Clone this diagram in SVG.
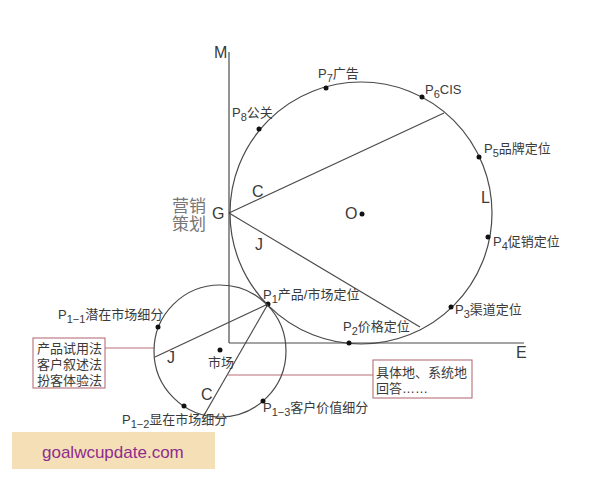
<svg xmlns="http://www.w3.org/2000/svg" width="600" height="480" viewBox="0 0 600 480">
<style>
.ln{stroke:#4a4a4a;stroke-width:1.2;fill:none}
.co{stroke:#b7707a;stroke-width:1.1;fill:none}
.t{font-family:"Liberation Sans","Noto Sans CJK SC",sans-serif;font-size:13px;fill:#3a3a3a}
.big{font-family:"Liberation Sans","Noto Sans CJK SC",sans-serif;font-size:16px;fill:#3a3a3a}
.dot{fill:#111}
.sub{font-size:11px}
</style>
<rect width="600" height="480" fill="#fff"/>
<g id="connectors">
<line class="ln" x1="229" y1="52" x2="229" y2="343"/>
<line class="ln" x1="229" y1="343" x2="524" y2="343"/>
<line class="ln" x1="229" y1="213" x2="444" y2="113"/>
<line class="ln" x1="229" y1="213" x2="420" y2="327"/>
<line class="ln" x1="268" y1="304" x2="155" y2="357"/>
<line class="ln" x1="268" y1="304" x2="203" y2="417"/>
<line class="co" x1="105" y1="348" x2="154" y2="348"/>
<line class="co" x1="227" y1="375" x2="373" y2="375"/>
</g>
<g id="bigCircle">
<circle class="ln" cx="361" cy="213" r="131"/>
<circle class="dot" cx="362" cy="214" r="2.5"/>
<text class="big" x="345" y="219">O</text>
<text class="big" x="481" y="203">L</text>
<text class="big" x="252" y="197">C</text>
<text class="big" x="255" y="250">J</text>
</g>
<g id="axes">
<text class="big" x="214" y="58">M</text>
<text class="big" x="516" y="358">E</text>
<text class="big" x="212" y="219">G</text>
<text x="172" y="212" font-family="Liberation Sans,Noto Sans CJK SC,sans-serif" font-size="17" fill="#777">营销</text>
<text x="172" y="230" font-family="Liberation Sans,Noto Sans CJK SC,sans-serif" font-size="17" fill="#777">策划</text>
</g>
<g id="P7"><circle class="dot" cx="326" cy="88" r="2.5"/><text class="t" x="318" y="78">P<tspan class="sub" dy="4">7</tspan><tspan dy="-4">广告</tspan></text></g>
<g id="P8"><circle class="dot" cx="259" cy="129" r="2.5"/><text class="t" x="232" y="117">P<tspan class="sub" dy="4">8</tspan><tspan dy="-4">公关</tspan></text></g>
<g id="P6"><circle class="dot" cx="422" cy="97" r="2.5"/><text class="t" x="425" y="94">P<tspan class="sub" dy="4">6</tspan><tspan dy="-4">CIS</tspan></text></g>
<g id="P5"><circle class="dot" cx="479" cy="157" r="2.5"/><text class="t" x="484" y="153">P<tspan class="sub" dy="4">5</tspan><tspan dy="-4">品牌定位</tspan></text></g>
<g id="P4"><circle class="dot" cx="488" cy="237" r="2.5"/><text class="t" x="493" y="246">P<tspan class="sub" dy="4">4</tspan><tspan dy="-4">促销定位</tspan></text></g>
<g id="P3"><circle class="dot" cx="451" cy="307" r="2.5"/><text class="t" x="455" y="314">P<tspan class="sub" dy="4">3</tspan><tspan dy="-4">渠道定位</tspan></text></g>
<g id="P2"><circle class="dot" cx="349" cy="343" r="2.5"/><text class="t" x="343" y="331">P<tspan class="sub" dy="4">2</tspan><tspan dy="-4">价格定位</tspan></text></g>
<g id="P1"><circle class="dot" cx="268" cy="304" r="2.5"/><text class="t" x="263" y="299">P<tspan class="sub" dy="4">1</tspan><tspan dy="-4">产品/市场定位</tspan></text></g>
<g id="smallCircle">
<circle class="ln" cx="220" cy="351" r="66"/>
<circle class="dot" cx="220" cy="350" r="2.5"/>
<text class="t" x="208" y="367">市场</text>
<text class="big" x="167" y="363">J</text>
<text class="big" x="201" y="400">C</text>
</g>
<g id="P1-1"><circle class="dot" cx="158" cy="327" r="2.5"/><text class="t" x="58" y="319">P<tspan class="sub" dy="4">1−1</tspan><tspan dy="-4">潜在市场细分</tspan></text></g>
<g id="P1-2"><circle class="dot" cx="184" cy="406" r="2.5"/><text class="t" x="122" y="424">P<tspan class="sub" dy="4">1−2</tspan><tspan dy="-4">显在市场细分</tspan></text></g>
<g id="P1-3"><circle class="dot" cx="263" cy="401" r="2.5"/><text class="t" x="263" y="412">P<tspan class="sub" dy="4">1−3</tspan><tspan dy="-4">客户价值细分</tspan></text></g>
<g id="leftBox">
<rect class="co" x="33" y="338" width="72" height="50"/>
<text class="t" x="37" y="353">产品试用法</text>
<text class="t" x="37" y="369">客户叙述法</text>
<text class="t" x="37" y="385">扮客体验法</text>
</g>
<g id="rightBox">
<rect class="co" x="373" y="360" width="99" height="38"/>
<text class="t" x="376" y="377">具体地、系统地</text>
<text class="t" x="376" y="393">回答……</text>
</g>
<g id="watermark">
<rect x="12" y="432" width="203" height="37" fill="#f5dfb6"/>
<text x="42" y="458" font-family="Liberation Sans,sans-serif" font-size="17" fill="#8e2c8e">goalwcupdate.com</text>
</g>
</svg>
